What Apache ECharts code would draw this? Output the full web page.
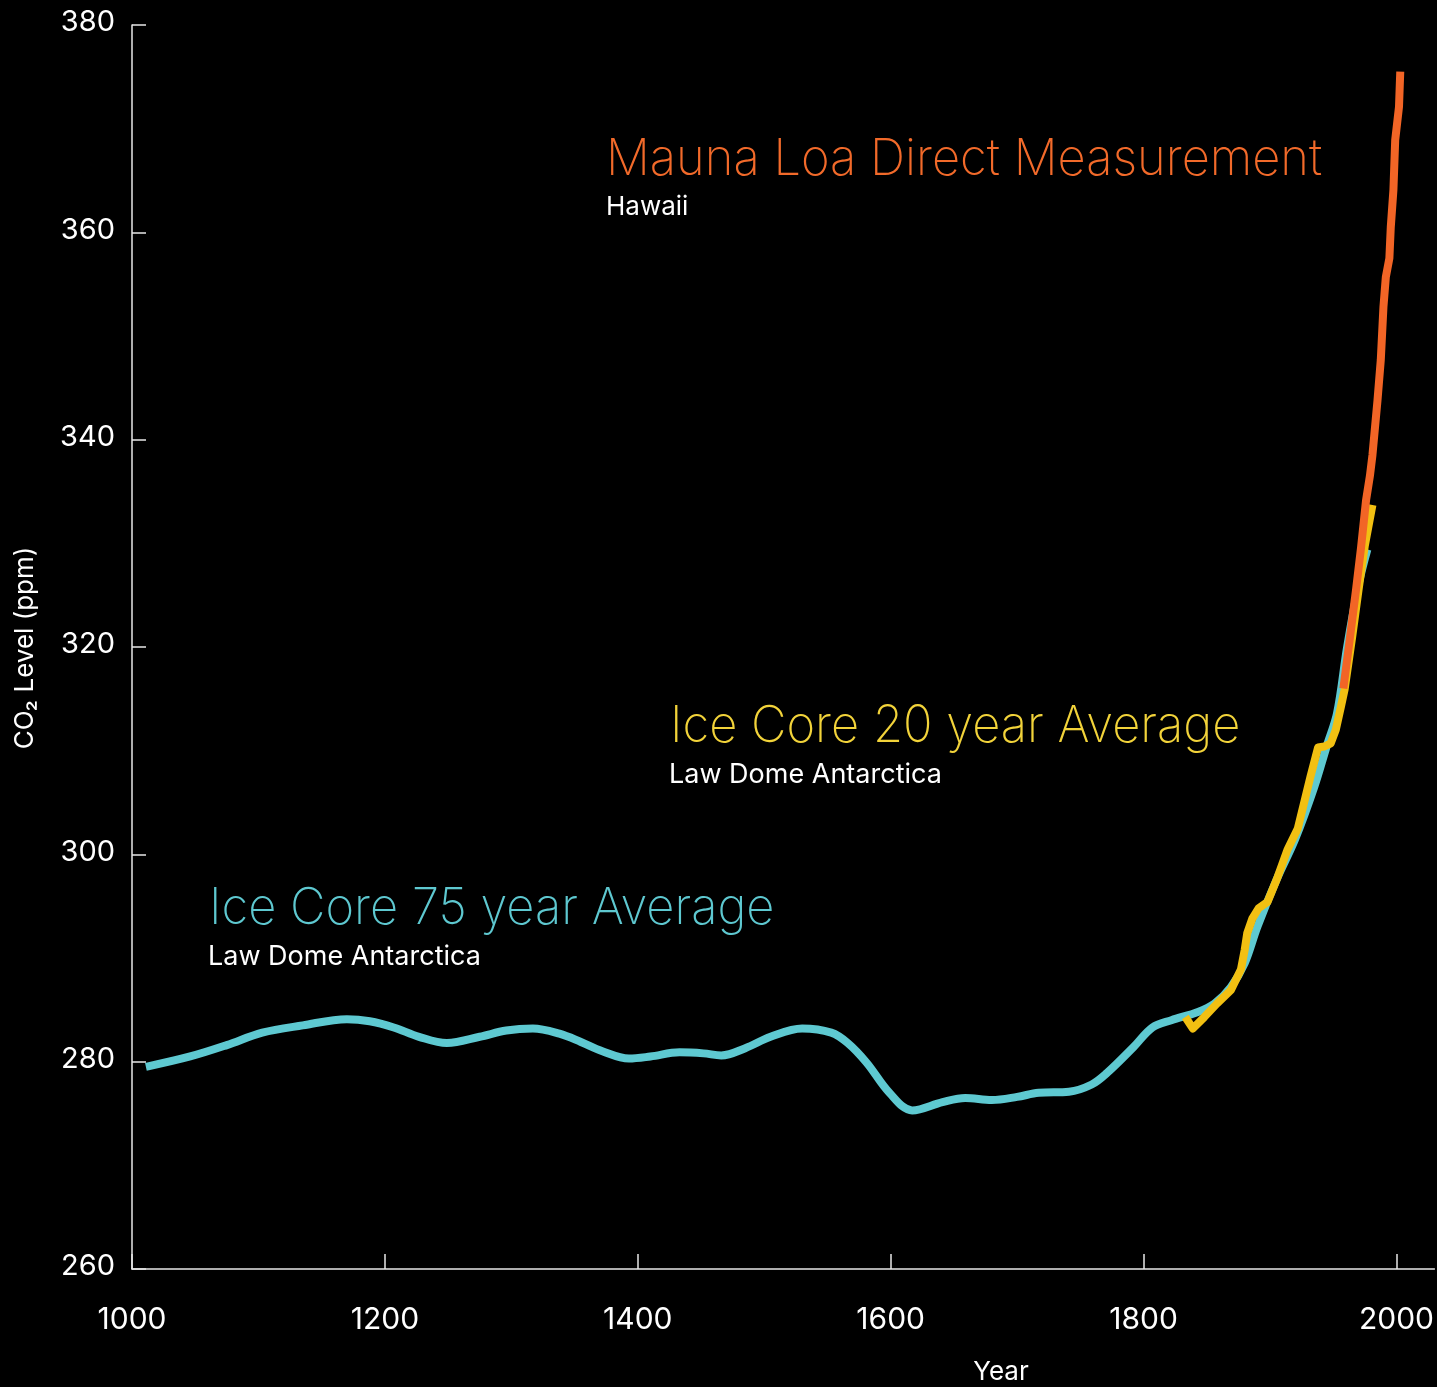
<!DOCTYPE html>
<html><head><meta charset="utf-8">
<script src="https://cdn.jsdelivr.net/npm/echarts@6/dist/echarts.min.js"></script>
<style>html,body{margin:0;padding:0;background:#000}#c{width:1437px;height:1387px}</style>
</head><body><div id="c"></div>
<script>
// Data
const xTicks = [1000, 1200, 1400, 1600, 1800, 2000];
const yTicks = [260, 280, 300, 320, 340, 360, 380];

const iceCore75Years = [1011,1046,1075,1103,1135,1170,1188,1207,1227,1249,1275,1296,1317,1338,1355,1372,1393,1410,1433,1452,1466,1485,1505,1530,1553,1566,1581,1599,1617,1641,1659,1680,1700,1717,1741,1759,1771,1792,1807,1822,1843,1856,1869,1880,1890,1905,1920,1935,1945,1953,1961,1970,1977];
const iceCore75Ppm   = [279.5,280.5,281.6,282.8,283.5,284.1,283.9,283.3,282.4,281.8,282.4,283.0,283.2,282.7,281.9,281.0,280.3,280.5,280.9,280.8,280.6,281.3,282.4,283.2,282.8,281.8,279.9,277.0,275.3,276.1,276.5,276.3,276.6,277.0,277.1,277.8,278.9,281.4,283.3,284.0,284.8,285.6,287.2,289.5,293.0,297.5,301.5,306.5,310.5,313.6,320.0,326.0,329.4];

const iceCore20Years = [1833,1839,1848,1858,1869,1877,1880,1882,1886,1891,1898,1906,1914,1922,1932,1938,1943,1948,1952,1956,1959,1965,1970,1975,1981];
const iceCore20Ppm   = [284.3,283.2,284.3,285.6,286.9,288.9,290.8,292.4,293.8,294.8,295.4,297.8,300.5,302.5,307.5,310.3,310.4,310.7,312.0,314.2,315.9,321.0,325.5,329.8,333.7];

const maunaLoaYears = [1958,1963,1968,1972,1976,1979,1981,1985,1987.6,1989.7,1991.6,1994.4,1995.5,1997.6,1999,2002,2003];
const maunaLoaPpm   = [316.0,320.7,325.5,329.6,334.2,336.5,338.5,343.8,347.7,352.8,355.7,357.5,360.5,364.1,368.9,372.1,375.5];

const pair = (xs, ys) => xs.map((x, i) => [x, ys[i]]);

const FONT = 'Inter, "Noto Sans", sans-serif';
const TITLE_SCALE = 0.958;
const chart = echarts.init(document.getElementById('c'), null, {renderer: 'canvas'});
chart.setOption({
  backgroundColor: '#000',
  animation: false,
  grid: {left: 132, top: 25, right: 0, bottom: 118},
  xAxis: {
    type: 'value', min: 1000, max: 2030,
    axisLine: {lineStyle: {color: '#e8e8e8', width: 1.5}},
    axisTick: {inside: true, length: 15, lineStyle: {color: '#e8e8e8', width: 1.5}, customValues: xTicks},
    axisLabel: {color: '#fff', fontSize: 30, fontFamily: FONT, margin: 36, customValues: xTicks, formatter: v => String(v)},
    splitLine: {show: false}
  },
  yAxis: {
    type: 'value', min: 260, max: 380, interval: 20,
    axisLine: {show: true, lineStyle: {color: '#e8e8e8', width: 1.5}},
    axisTick: {show: true, inside: true, length: 14, lineStyle: {color: '#e8e8e8', width: 1.5}, customValues: yTicks},
    axisLabel: {color: '#fff', fontSize: 29, fontFamily: FONT, margin: 17, customValues: yTicks, formatter: v => String(v), verticalAlign: 'bottom', padding: [0, 0, -12, 0]},
    splitLine: {show: false}
  },
  series: [
    {type: 'line', data: pair(iceCore75Years, iceCore75Ppm), smooth: 0.35, symbol: 'none',
     lineStyle: {color: '#5ec9d1', width: 8, cap: 'butt'}, z: 2},
    {type: 'line', data: pair(iceCore20Years, iceCore20Ppm), smooth: false, symbol: 'none',
     lineStyle: {color: '#f2c012', width: 8, cap: 'butt', join: 'round'}, z: 3},
    {type: 'line', data: pair(maunaLoaYears, maunaLoaPpm), smooth: false, symbol: 'none', clip: false,
     lineStyle: {color: '#f26526', width: 8, cap: 'butt', join: 'round'}, z: 4}
  ],
  graphic: [
    {type: 'text', x: 606, y: 160, scaleX: TITLE_SCALE, style: {x: 0, y: 0, text: 'Mauna Loa Direct Measurement', fill: '#f26a2a', font: '200 51px ' + FONT, textVerticalAlign: 'middle'}},
    {type: 'text', style: {x: 606, y: 207, text: 'Hawaii', fill: '#fff', font: '400 26px ' + FONT, textVerticalAlign: 'middle'}},
    {type: 'text', x: 670, y: 727, scaleX: TITLE_SCALE, style: {x: 0, y: 0, text: 'Ice Core 20 year Average', fill: '#f2d33a', font: '200 51px ' + FONT, textVerticalAlign: 'middle'}},
    {type: 'text', style: {x: 669, y: 775, text: 'Law Dome Antarctica', fill: '#fff', font: '400 27px ' + FONT, textVerticalAlign: 'middle'}},
    {type: 'text', x: 209, y: 909, scaleX: TITLE_SCALE, style: {x: 0, y: 0, text: 'Ice Core 75 year Average', fill: '#5ec8d0', font: '200 51px ' + FONT, textVerticalAlign: 'middle'}},
    {type: 'text', style: {x: 208, y: 957, text: 'Law Dome Antarctica', fill: '#fff', font: '400 27px ' + FONT, textVerticalAlign: 'middle'}},
    {type: 'text', style: {x: 1001, y: 1372, text: 'Year', fill: '#fff', font: '400 26px ' + FONT, textAlign: 'center', textVerticalAlign: 'middle'}},
    {type: 'text', x: 25, y: 648, rotation: Math.PI / 2,
     style: {x: 0, y: 0, text: 'CO₂ Level (ppm)', fill: '#fff', font: '400 26px ' + FONT, textAlign: 'center', textVerticalAlign: 'middle'}}
  ]
});
</script></body></html>
